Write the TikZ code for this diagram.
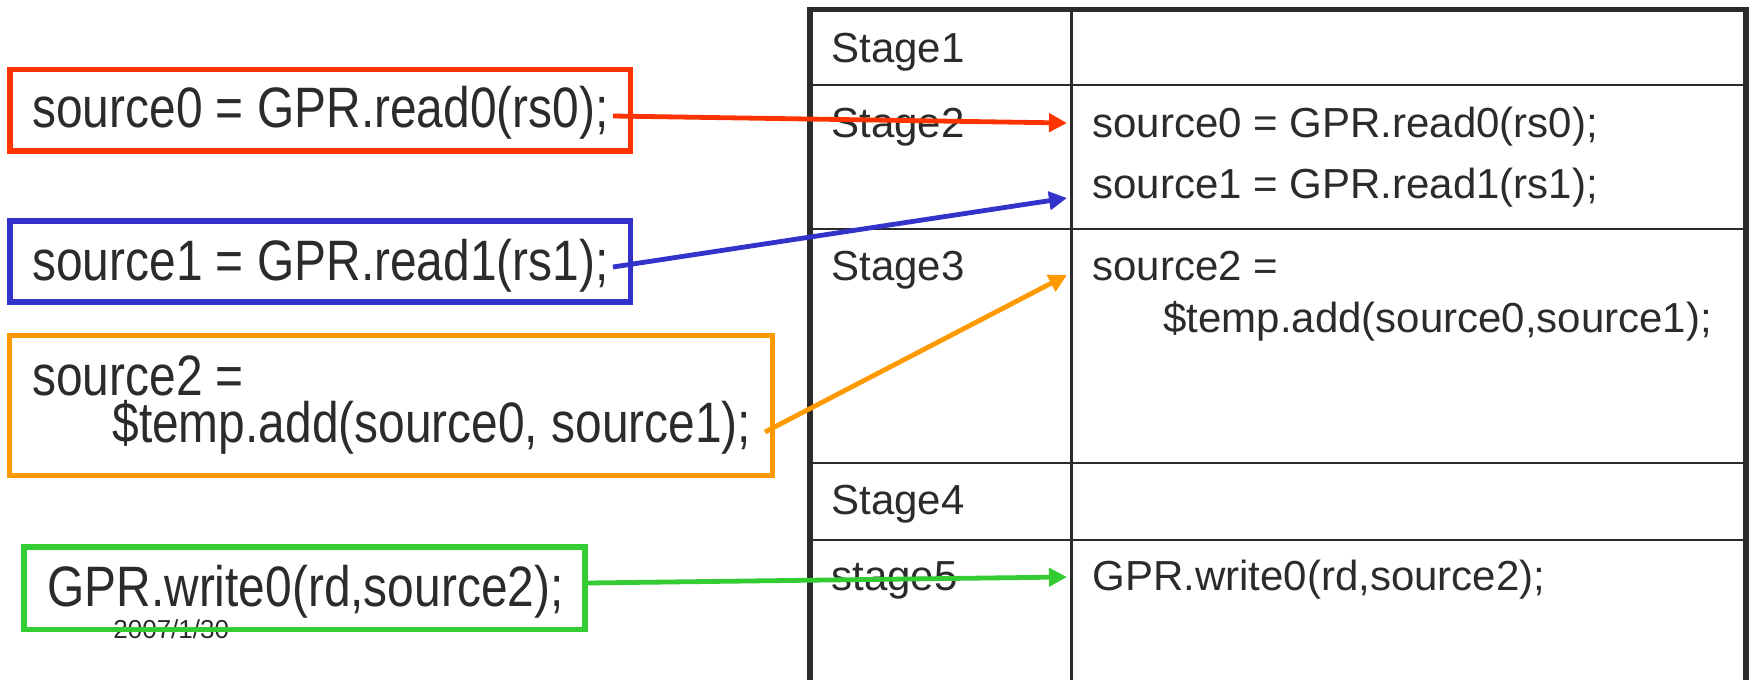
\documentclass[tikz,border=0pt]{standalone}
\usepackage{fontspec}
\setmainfont{Liberation Sans}
\newfontfamily\condfont{Liberation Sans}[FakeStretch=0.84]
\usetikzlibrary{arrows.meta}
\definecolor{ink}{HTML}{2B2B2B}
\definecolor{cRed}{HTML}{FF3300}
\definecolor{cBlue}{HTML}{3333CC}
\definecolor{cOrange}{HTML}{FF9900}
\definecolor{cGreen}{HTML}{33CC33}
\begin{document}
\begin{tikzpicture}[x=0.5pt,y=-0.5pt,
  lefttext/.style={font=\condfont\fontsize{28.5}{23.5}\selectfont, text=ink, inner sep=0pt, anchor=base west},
  celltext/.style={font=\fontsize{21}{26}\selectfont, text=ink, inner sep=0pt, anchor=base west},
  datetext/.style={font=\fontsize{13}{15}\selectfont, text=ink, inner sep=0pt, anchor=base west},
  codebox/.style={draw=#1, line width=2.85pt, inner sep=0pt},
  flow/.style={draw=#1, line width=2.4pt, -{Triangle[length=9pt,width=9pt,fill=#1]}},
  gridline/.style={draw=ink, line width=1.4pt},
  outerline/.style={draw=ink, line width=2.7pt, line join=miter}]
\useasboundingbox (0,0) rectangle (1752,680);

% table
\draw[outerline] (810,690) -- (810,9.5) -- (1746,9.5) -- (1746,690);
\draw[gridline] (1071.5,9.5) -- (1071.5,690);
\foreach \yy in {85,229,463,540} \draw[gridline] (810,\yy) -- (1746,\yy);

\node[celltext] (st1) at (831,62) {Stage1};
\node[celltext] (st2) at (831,137) {Stage2};
\node[celltext] (st3) at (831,280) {Stage3};
\node[celltext] (st4) at (831,514) {Stage4};
\node[celltext] (st5) at (831,590) {stage5};

\node[celltext] (r0) at (1092,137) {source0 = GPR.read0(rs0);};
\node[celltext] (r1) at (1092,198) {source1 = GPR.read1(rs1);};
\node[celltext, align=left] (r2) at (1092,332) {source2 =\\\hspace*{35.5pt}\$temp.add(source0,source1);};
\node[celltext] (r5) at (1092,590) {GPR.write0(rd,source2);};

% left boxes
\node[datetext] (date) at (113,638) {2007/1/30};

\node[codebox=cRed, minimum width=310.25pt, minimum height=40.75pt] (b0) at (320.25,110.25) {};
\node[codebox=cBlue, minimum width=310.25pt, minimum height=40.5pt] (b1) at (320.25,261.5) {};
\node[codebox=cOrange, minimum width=381.5pt, minimum height=70pt] (b2) at (391,405.5) {};
\node[codebox=cGreen, minimum width=280.5pt, minimum height=41.25pt] (b5) at (304.5,588.25) {};

\node[lefttext] (l0) at (32,127) {source0 = GPR.read0(rs0);};
\node[lefttext] (l1) at (32,280) {source1 = GPR.read1(rs1);};
\node[lefttext, align=left] (l2) at (32,442) {source2 =\\\hspace*{40pt}\$temp.add(source0, source1);};
\node[lefttext] (l5) at (47,606) {GPR.write0(rd,source2);};

% connector ends
\coordinate (s0) at (613,116);
\coordinate (e0) at (1067,123);
\coordinate (s1) at (613,267);
\coordinate (e1) at (1067,198);
\coordinate (s2) at (765,432);
\coordinate (e2) at (1067,275);
\coordinate (s5) at (588,583);
\coordinate (e5) at (1067,577);

\draw[flow=cRed] (s0) -- (e0);
\draw[flow=cBlue] (s1) -- (e1);
\draw[flow=cOrange] (s2) -- (e2);
\draw[flow=cGreen] (s5) -- (e5);
\end{tikzpicture}
\end{document}
